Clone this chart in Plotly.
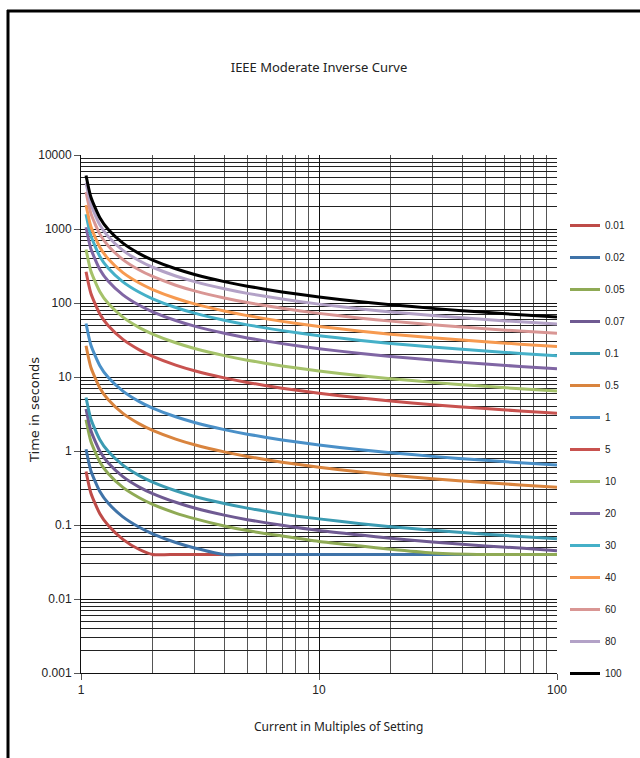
import plotly.graph_objects as go

multiples = [1.05, 1.1, 1.2, 1.3, 1.5, 1.75, 2, 2.5, 3, 4, 5, 7, 10, 15, 20, 30, 50, 70, 100]

series_names = ["0.01", "0.02", "0.05", "0.07", "0.1", "0.5", "1", "5", "10", "20", "30", "40", "60", "80", "100"]

t_001 = [0.529, 0.271, 0.142, 0.099, 0.064, 0.047, 0.04, 0.04, 0.04, 0.04, 0.04, 0.04, 0.04, 0.04, 0.04, 0.04, 0.04, 0.04, 0.04]
t_002 = [1.057, 0.542, 0.284, 0.198, 0.129, 0.094, 0.076, 0.058, 0.049, 0.04, 0.04, 0.04, 0.04, 0.04, 0.04, 0.04, 0.04, 0.04, 0.04]
t_005 = [2.643, 1.356, 0.711, 0.495, 0.322, 0.235, 0.190, 0.145, 0.122, 0.097, 0.084, 0.071, 0.060, 0.052, 0.047, 0.042, 0.04, 0.04, 0.04]
t_007 = [3.700, 1.898, 0.995, 0.693, 0.451, 0.328, 0.266, 0.203, 0.170, 0.136, 0.118, 0.099, 0.084, 0.073, 0.066, 0.059, 0.052, 0.049, 0.045]
t_01 = [5.286, 2.711, 1.421, 0.990, 0.644, 0.469, 0.380, 0.290, 0.243, 0.195, 0.169, 0.141, 0.121, 0.104, 0.095, 0.085, 0.075, 0.070, 0.065]
t_05 = [26.43, 13.56, 7.105, 4.952, 3.220, 2.345, 1.902, 1.450, 1.216, 0.973, 0.844, 0.706, 0.604, 0.520, 0.474, 0.423, 0.374, 0.348, 0.324]
t_1 = [52.86, 27.11, 14.21, 9.903, 6.439, 4.690, 3.803, 2.899, 2.432, 1.946, 1.688, 1.412, 1.207, 1.039, 0.948, 0.846, 0.747, 0.695, 0.648]
t_5 = [264.3, 135.6, 71.05, 49.52, 32.20, 23.45, 19.02, 14.50, 12.16, 9.73, 8.44, 7.06, 6.04, 5.20, 4.74, 4.23, 3.74, 3.48, 3.24]
t_10 = [528.6, 271.1, 142.1, 99.03, 64.39, 46.90, 38.03, 28.99, 24.32, 19.46, 16.88, 14.12, 12.07, 10.39, 9.48, 8.46, 7.47, 6.95, 6.48]
t_20 = [1057, 542.2, 284.2, 198.1, 128.8, 93.8, 76.06, 57.98, 48.64, 38.92, 33.76, 28.24, 24.14, 20.78, 18.96, 16.92, 14.94, 13.90, 12.96]
t_30 = [1586, 813.3, 426.3, 297.1, 193.2, 140.7, 114.1, 86.97, 72.96, 58.38, 50.64, 42.36, 36.21, 31.17, 28.44, 25.38, 22.41, 20.85, 19.44]
t_40 = [2114, 1084, 568.4, 396.1, 257.6, 187.6, 152.1, 116.0, 97.28, 77.84, 67.52, 56.48, 48.28, 41.56, 37.92, 33.84, 29.88, 27.80, 25.92]
t_60 = [3172, 1627, 852.6, 594.2, 386.3, 281.4, 228.2, 173.9, 145.9, 116.8, 101.3, 84.72, 72.42, 62.34, 56.88, 50.76, 44.82, 41.70, 38.88]
t_80 = [4229, 2169, 1137, 792.2, 515.1, 375.2, 304.2, 231.9, 194.6, 155.7, 135.0, 113.0, 96.56, 83.12, 75.84, 67.68, 59.76, 55.60, 51.84]
t_100 = [5286, 2711, 1421, 990.3, 643.9, 469.0, 380.3, 289.9, 243.2, 194.6, 168.8, 141.2, 120.7, 103.9, 94.8, 84.6, 74.7, 69.5, 64.8]

series_values = [t_001, t_002, t_005, t_007, t_01, t_05, t_1, t_5, t_10, t_20, t_30, t_40, t_60, t_80, t_100]

colors = ["#BE4B48", "#3F73A8", "#8FAA55", "#6F5A92", "#3C9BB2", "#D9843E", "#4A90C8",
          "#C8524F", "#A5C26A", "#8066A4", "#45B0C8", "#F79A50", "#D99694", "#B3A2C7", "#000000"]

x_tick_vals = [1, 10, 100]
x_tick_text = ["1", "10", "100"]
x_minor_vals = [2, 3, 4, 5, 6, 7, 8, 9, 20, 30, 40, 50, 60, 70, 80, 90]
y_tick_vals = [0.001, 0.01, 0.1, 1, 10, 100, 1000, 10000]
y_tick_text = ["0.001", "0.01", "0.1", "1", "10", "100", "1000", "10000"]
y_minor_vals = [m * d for d in [0.001, 0.01, 0.1, 1, 10, 100, 1000] for m in range(2, 10)]

fig = go.Figure()
for i, (name, vals, col) in enumerate(zip(series_names, series_values, colors)):
    fig.add_trace(go.Scatter(
        x=multiples, y=vals, name=name, mode="lines",
        line=dict(color=col, width=3, shape="spline", smoothing=0.6),
        legendgroup=str(i),
    ))

W, H = 640, 758
L, R, T, B = 81, 557, 155, 673
PW, PH = R - L, B - T

fig.update_layout(
    width=W, height=H,
    margin=dict(l=L, r=W - R, t=T, b=H - B, autoexpand=False),
    paper_bgcolor="white", plot_bgcolor="white",
    title=dict(text="IEEE Moderate Inverse Curve", x=0.5, xanchor="center", xref="paper",
               y=1 - 67 / H, yanchor="middle", yref="container",
               font=dict(family="Noto Sans", size=13, color="#222")),
    font=dict(family="Liberation Sans", size=12, color="#222"),
    showlegend=True,
    legend=dict(x=(565 - L) / PW, xanchor="left", y=(B - 211) / PH, yanchor="top",
                font=dict(family="Liberation Sans", size=10, color="#222"),
                tracegroupgap=13, itemwidth=30, bgcolor="rgba(0,0,0,0)"),
    xaxis=dict(type="log", range=[0, 2], tickvals=x_tick_vals, ticktext=x_tick_text,
               showgrid=True, gridcolor="#111", gridwidth=1,
               minor=dict(tickvals=x_minor_vals, showgrid=True, gridcolor="#555", gridwidth=1, ticks=""),
               showline=True, linecolor="#111", linewidth=1, ticks="outside", ticklen=6, tickcolor="#555",
               tickfont=dict(size=12), zeroline=False),
    yaxis=dict(type="log", range=[-3, 4], tickvals=y_tick_vals, ticktext=y_tick_text,
               showgrid=True, gridcolor="#111", gridwidth=1,
               minor=dict(tickvals=y_minor_vals, showgrid=True, gridcolor="#222", gridwidth=1, ticks=""),
               showline=True, linecolor="#111", linewidth=1, ticks="outside", ticklen=6, tickcolor="#555",
               tickfont=dict(size=12), zeroline=False),
    annotations=[
        dict(text="Current in Multiples of Setting", xref="paper", yref="paper",
             x=(338 - L) / PW, y=(B - 726) / PH, xanchor="center", yanchor="middle",
             showarrow=False, font=dict(family="Noto Sans", size=12, color="#222")),
        dict(text="Time in seconds", xref="paper", yref="paper", textangle=-90,
             x=(34 - L) / PW, y=(B - 410) / PH, xanchor="center", yanchor="middle",
             showarrow=False, font=dict(family="DejaVu Sans", size=13, color="#222")),
    ],
    shapes=[
        dict(type="line", xref="paper", yref="paper",
             x0=(7 - L) / PW, x1=(W + 5 - L) / PW,
             y0=(B - 11) / PH, y1=(B - 11) / PH,
             line=dict(color="black", width=3)),
        dict(type="line", xref="paper", yref="paper",
             x0=(8 - L) / PW, x1=(8 - L) / PW,
             y0=(B - 10) / PH, y1=(B - H - 5) / PH,
             line=dict(color="black", width=3)),
    ],
)

fig.write_html("out.html", config={"displayModeBar": False},
               post_script="document.body.style.margin='0';document.body.style.overflow='hidden';")
